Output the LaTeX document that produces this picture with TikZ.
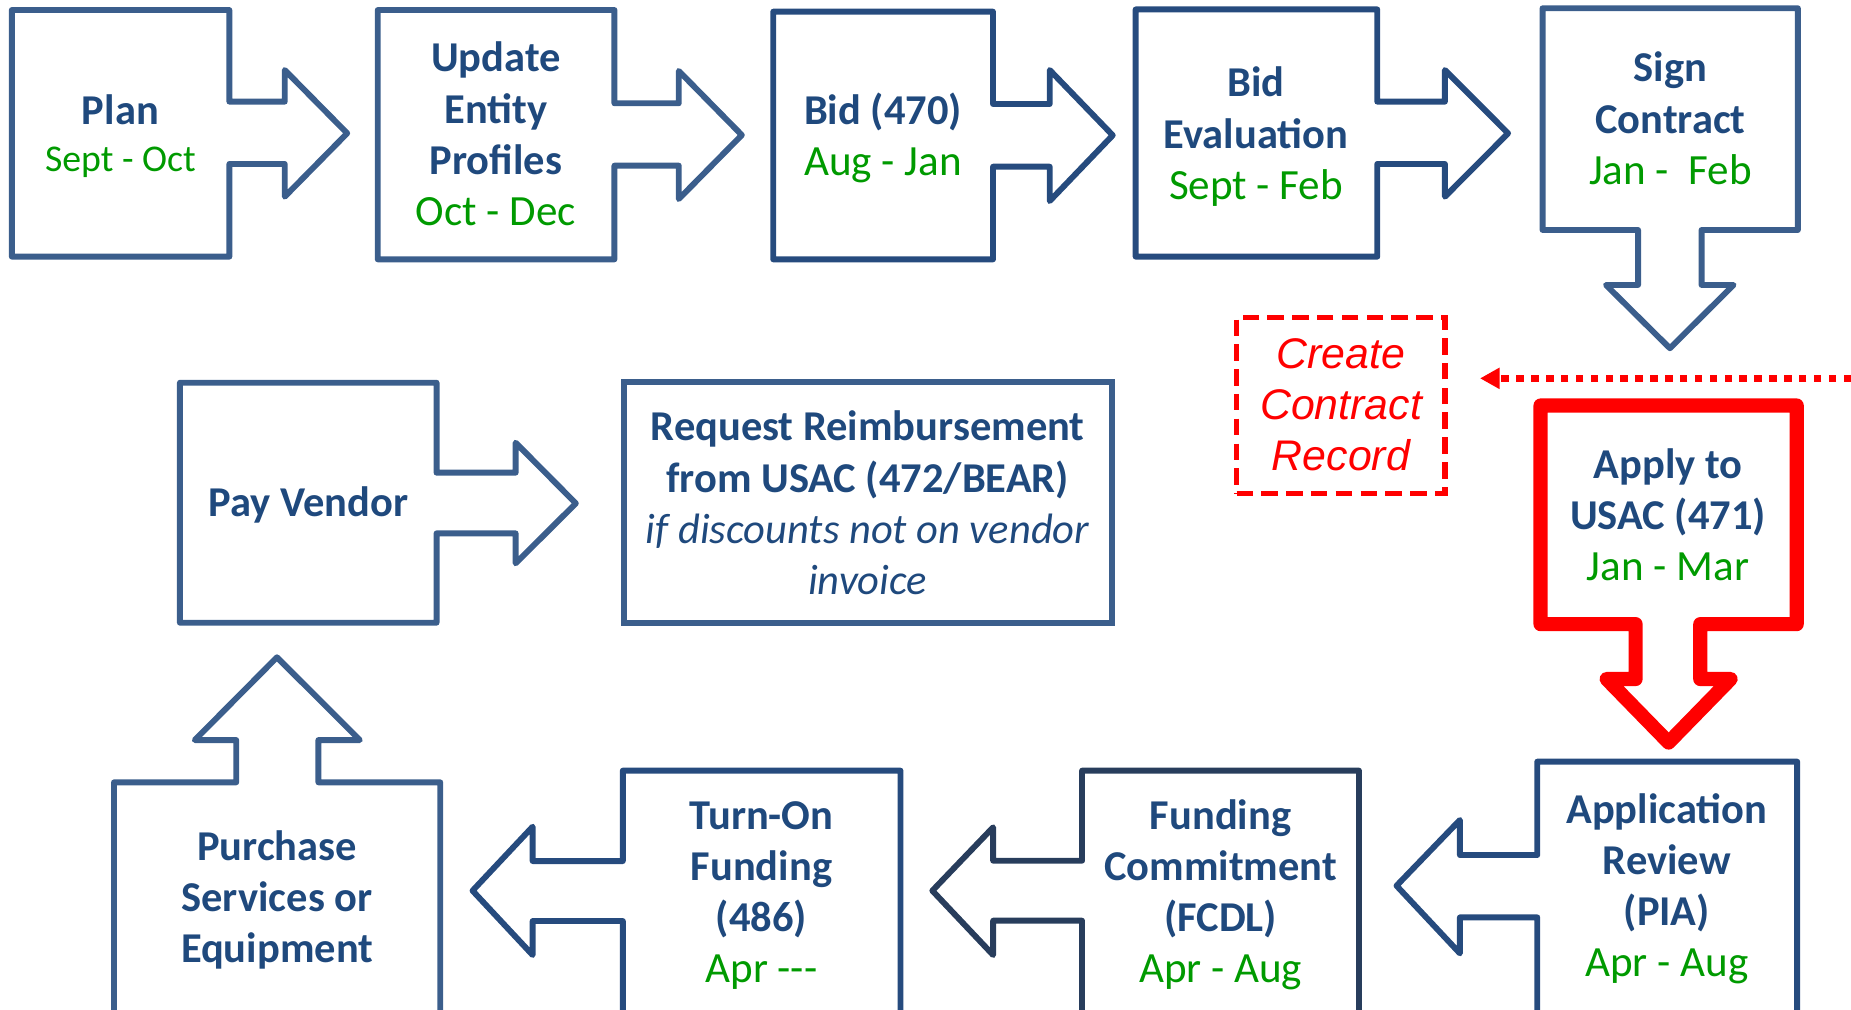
\documentclass[tikz,border=0pt]{standalone}
\usepackage{fontspec}
\setmainfont{Carlito}
\newfontfamily\arialf{Liberation Sans}
\usetikzlibrary{arrows.meta}
\definecolor{boxA}{HTML}{3B5E8C}
\definecolor{boxB}{HTML}{264B7E}
\definecolor{boxC}{HTML}{283D5C}
\definecolor{navy}{HTML}{1F497D}
\definecolor{grn}{HTML}{009A00}
\def\ms{\vrule width0pt height30.5pt depth12.8pt\relax}
\newcommand{\gr}[1]{{\color{grn}\mdseries\fontsize{36.5}{43.3}\selectfont #1}}
\newcommand{\crf}{\arialf\itshape\mdseries\fontsize{36.3}{43.3}\selectfont\color{red}}
\begin{document}
\begin{tikzpicture}[x=1pt,y=-1pt,
  shp/.style={line width=5pt, line join=round},
  lbl/.style={font=\fontsize{36}{43.3}\selectfont\bfseries, text=navy, align=center, inner sep=0pt, anchor=north}]
\useasboundingbox (0,0) rectangle (1568,855);
\clip (0,0) rectangle (1568,855);
% ---- top row ----
\draw[shp,boxA] (10,8.5) -- (194.3,8.5) -- (194.3,86.1) -- (241.2,86.1) -- (241.2,59.3) -- (294.1,112.9) -- (241.2,166.6) -- (241.2,138.9) -- (194.3,138.9) -- (194.3,217.4) -- (10,217.4) -- cycle;
\draw[shp,boxA] (320,8.5) -- (520.5,8.5) -- (520.5,87.5) -- (575,87.5) -- (575,60.1) -- (628.4,114.4) -- (575,168.6) -- (575,140.3) -- (520.5,140.3) -- (520.5,219.7) -- (320,219.7) -- cycle;
\draw[shp,boxB] (655,9.9) -- (841.2,9.9) -- (841.2,88.1) -- (889.2,88.1) -- (889.2,59.3) -- (942.6,114.6) -- (889.2,170.3) -- (889.2,141.2) -- (841.2,141.2) -- (841.2,219.7) -- (655,219.7) -- cycle;
\draw[shp,boxB] (962,8) -- (1166.7,8) -- (1166.7,86.1) -- (1224,86.1) -- (1224,59.3) -- (1277.5,112.9) -- (1224,166.6) -- (1224,138.9) -- (1166.7,138.9) -- (1166.7,217.4) -- (962,217.4) -- cycle;
\draw[shp,boxA] (1306.7,7) -- (1523,7) -- (1523,194.8) -- (1441.4,194.8) -- (1441.4,241.4) -- (1468.5,241.4) -- (1414.6,295) -- (1360.4,241.4) -- (1387.6,241.4) -- (1387.6,194.8) -- (1306.7,194.8) -- cycle;
% ---- middle row ----
\draw[red, line width=12pt, line join=round] (1305,343.5) -- (1522,343.5) -- (1522,528.7) -- (1440.3,528.7) -- (1440.3,575.2) -- (1466,575.2) -- (1413.5,629) -- (1361,575.2) -- (1385.5,575.2) -- (1385.5,528.7) -- (1305,528.7) -- cycle;
\draw[shp,boxA] (152.4,324.2) -- (369.8,324.2) -- (369.8,400.4) -- (436.8,400.4) -- (436.8,375) -- (487.8,426.4) -- (436.8,477.2) -- (436.8,451.8) -- (369.8,451.8) -- (369.8,527.5) -- (152.4,527.5) -- cycle;
\node[draw=boxA, line width=5pt, minimum width=413.4pt, minimum height=204.1pt, inner sep=0pt] (reqbox) at (735.3,425.95) {};
\node[draw=red, line width=4.5pt, dash pattern=on 14pt off 7pt, minimum width=176.5pt, minimum height=149.1pt, inner sep=0pt] (createbox) at (1135.75,343.35) {};
\coordinate (dotR) at (1568,320.5);
\draw[red, line width=6pt, dash pattern=on 6.3pt off 6.3pt, -{Triangle[length=16.5pt,width=17pt]}, shorten >=27.5pt] (dotR) -- (dotR -| createbox.east);
% ---- bottom row ----
\draw[shp,boxA] (96.6,880) -- (96.6,662.7) -- (200.1,662.7) -- (200.1,626.9) -- (165,626.9) -- (234.6,556.8) -- (304.8,626.9) -- (269.7,626.9) -- (269.7,662.7) -- (372.9,662.7) -- (372.9,880) -- cycle;
\draw[shp,boxB] (762.8,880) -- (762.8,652.8) -- (527.6,652.8) -- (527.6,729.4) -- (451.2,729.4) -- (451.2,700.3) -- (400.3,754.5) -- (451.2,809) -- (451.2,780.2) -- (527.6,780.2) -- (527.6,880) -- cycle;
\draw[shp,boxC] (1151.2,880) -- (1151.2,652.8) -- (916.6,652.8) -- (916.6,729.1) -- (841.3,729.1) -- (841.3,700.8) -- (789.8,754.5) -- (841.3,809) -- (841.3,779.9) -- (916.6,779.9) -- (916.6,880) -- cycle;
\draw[shp,boxB] (1522.4,880) -- (1522.4,645.2) -- (1302.2,645.2) -- (1302.2,724.3) -- (1236.7,724.3) -- (1236.7,694.6) -- (1183,750.3) -- (1236.7,807.6) -- (1236.7,777.1) -- (1302.2,777.1) -- (1302.2,880) -- cycle;
% ---- labels ----
\node[lbl] (plan) at (102,74.5) {\ms Plan\\[-3.1pt]{\color{grn}\mdseries\fontsize{32}{43.3}\selectfont\ms Sept - Oct}};
\node[lbl] (update) at (420,30.2) {\ms Update\\\ms Entity\\\ms Profiles\\\gr{\ms Oct - Dec}};
\node[lbl] (bid) at (748,74.5) {\ms Bid (470)\\\gr{\ms Aug - Jan}};
\node[lbl] (bideval) at (1064,51.4) {\ms Bid\\\ms Evaluation\\\gr{\ms Sept - Feb}};
\node[lbl] (sign) at (1415,38.7) {\ms Sign\\\ms Contract\\\gr{\ms Jan -\ \ Feb}};
\node[lbl] (create) at (1136,281.5) {\crf\ms Create\\\crf\ms Contract\\\crf\ms Record};
\node[lbl] (apply) at (1413,374.7) {\ms Apply to\\\ms USAC (471)\\\gr{\ms Jan - Mar}};
\node[lbl] (pay) at (261.3,407.2) {\ms Pay Vendor};
\node[lbl] (request) at (735,342.8) {\ms Request Reimbursement\\\ms from USAC (472/BEAR)\\{\mdseries\itshape\ms if discounts not on vendor}\\{\mdseries\itshape\ms invoice}};
\node[lbl] (purchase) at (234.7,698) {\ms Purchase\\\ms Services or\\\ms Equipment};
\node[lbl] (turnon) at (645,672) {\ms Turn-On\\\ms Funding\\\ms (486)\\\gr{\ms Apr -{}-{}-}};
\node[lbl] (fcdl) at (1034,672) {\ms Funding\\\ms Commitment\\\ms (FCDL)\\\gr{\ms Apr - Aug}};
\node[lbl] (pia) at (1412,666.9) {\ms Application\\\ms Review\\\ms (PIA)\\\gr{\ms Apr - Aug}};
\end{tikzpicture}
\end{document}
